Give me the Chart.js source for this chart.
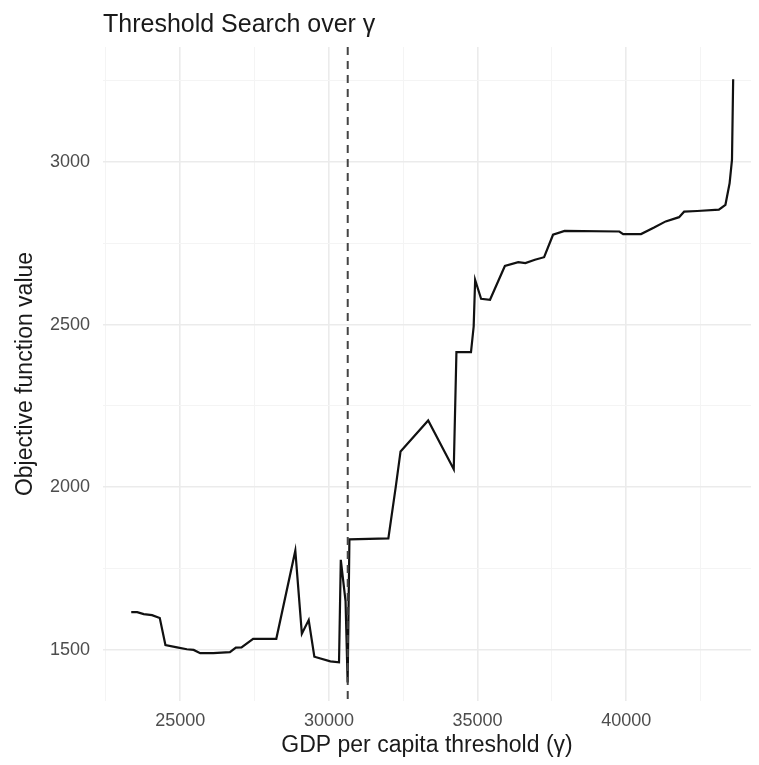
<!DOCTYPE html>
<html>
<head>
<meta charset="utf-8">
<script src="https://cdn.jsdelivr.net/npm/chart.js@4/dist/chart.umd.min.js"></script>
<style>
  html, body { margin: 0; padding: 0; background: #fff; }
  #wrap { width: 759px; height: 765px; }
</style>
</head>
<body>
<div id="wrap"><canvas id="searchChart" width="759" height="765"></canvas></div>
<script>
// threshold candidates (x) and objective values (y)
const gammaValues = [
  23350, 23550, 23770, 24050, 24310, 24500, 24890, 25220, 25450, 25670,
  26110, 26670, 26870, 27060, 27450, 28230, 28870, 29090, 29320, 29510,
  30050, 30340, 30400, 30560, 30630, 30690, 32000, 32250, 32410, 33340,
  34200, 34290, 34780, 34870, 34920, 35120, 35420, 35920, 36370, 36610,
  36930, 37240, 37540, 37930, 39770, 39900, 40500, 40940, 41330, 41780,
  41950, 42390, 43120, 43340, 43480, 43560, 43600
];
const objectiveValues = [
  1616, 1616, 1610, 1607, 1598, 1515, 1508, 1502, 1500, 1490,
  1490, 1493, 1507, 1508, 1534, 1534, 1805, 1550, 1592, 1479,
  1465, 1462, 1777, 1650, 1400, 1840, 1843, 2002, 2110, 2205,
  2055, 2415, 2415, 2494, 2637, 2579, 2576, 2680, 2692, 2689,
  2699, 2707, 2776, 2788, 2786, 2778, 2778, 2798, 2817, 2830,
  2847, 2849, 2853, 2868, 2934, 3006, 3254
];
const bestGamma = 30633;

// grid positions: labelled (major) ones and the minor ones in between
const xMajorTicks = [25000, 30000, 35000, 40000];
const xMinorTicks = [22500, 27500, 32500, 37500, 42500];
const yMajorTicks = [1500, 2000, 2500, 3000];
const yMinorTicks = [1750, 2250, 2750, 3250];

const FONT = "'Liberation Sans', Arial, sans-serif";

const points = gammaValues.map((g, i) => ({ x: g, y: objectiveValues[i] }));

function gridTicks(major, minor) {
  return major.concat(minor).sort((a, b) => a - b).map(v => ({ value: v }));
}

// dashed vertical line at the chosen threshold
const vlinePlugin = {
  id: 'vline',
  afterDatasetsDraw(chart) {
    const { ctx, chartArea, scales } = chart;
    const px = scales.x.getPixelForValue(bestGamma);
    ctx.save();
    ctx.strokeStyle = '#444444';
    ctx.lineWidth = 2;
    ctx.setLineDash([8, 6]);
    ctx.beginPath();
    ctx.moveTo(px, chartArea.top);
    ctx.lineTo(px, chartArea.bottom);
    ctx.stroke();
    ctx.restore();
  }
};

new Chart(document.getElementById('searchChart'), {
  type: 'line',
  data: {
    datasets: [{
      data: points,
      borderColor: '#111111',
      borderWidth: 2.2,
      pointRadius: 0,
      tension: 0,
      fill: false
    }]
  },
  options: {
    responsive: false,
    animation: false,
    layout: { padding: { left: 0, right: 8, top: 0, bottom: 0 } },
    plugins: {
      legend: { display: false },
      tooltip: { enabled: false },
      title: {
        display: true,
        text: 'Threshold Search over γ',
        align: 'start',
        fullSize: false,
        color: '#1a1a1a',
        font: { family: FONT, size: 25, weight: 'normal' },
        padding: { top: 10, bottom: 7 }
      }
    },
    scales: {
      x: {
        type: 'linear',
        min: 22400,
        max: 44200,
        afterBuildTicks: s => { s.ticks = gridTicks(xMajorTicks, xMinorTicks); },
        afterFit: s => { s.height = 64; },
        ticks: {
          color: '#4d4d4d',
          font: { family: FONT, size: 18 },
          padding: 9,
          maxRotation: 0,
          autoSkip: false,
          callback: v => xMajorTicks.includes(v) ? String(v) : ''
        },
        grid: {
          drawTicks: false,
          color: c => xMajorTicks.includes(c.tick.value) ? '#ebebeb' : '#f4f4f4',
          lineWidth: c => xMajorTicks.includes(c.tick.value) ? 1.6 : 1
        },
        border: { display: false },
        title: {
          display: true,
          text: 'GDP per capita threshold (γ)',
          color: '#1a1a1a',
          font: { family: FONT, size: 23 },
          padding: { top: 0, bottom: 6 }
        }
      },
      y: {
        type: 'linear',
        min: 1343,
        max: 3353,
        afterBuildTicks: s => { s.ticks = gridTicks(yMajorTicks, yMinorTicks); },
        afterFit: s => { s.width = 103; },
        ticks: {
          color: '#4d4d4d',
          font: { family: FONT, size: 18 },
          padding: 13,
          autoSkip: false,
          callback: v => yMajorTicks.includes(v) ? String(v) : ''
        },
        grid: {
          drawTicks: false,
          color: c => yMajorTicks.includes(c.tick.value) ? '#ebebeb' : '#f4f4f4',
          lineWidth: c => yMajorTicks.includes(c.tick.value) ? 1.6 : 1
        },
        border: { display: false },
        title: {
          display: true,
          text: 'Objective function value',
          color: '#1a1a1a',
          font: { family: FONT, size: 23 },
          padding: { top: 12, bottom: 0 }
        }
      }
    }
  },
  plugins: [vlinePlugin]
});
</script>
</body>
</html>
